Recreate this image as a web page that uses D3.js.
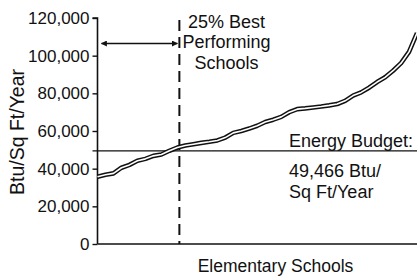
<!DOCTYPE html>
<html><head><meta charset="utf-8">
<script src="https://cdn.jsdelivr.net/npm/d3@7"></script>
<style>
html,body{margin:0;padding:0;background:#fff;}
text{font-family:"Liberation Sans",Arial,Helvetica,sans-serif;fill:#111;}
</style></head>
<body>
<svg id="chart" width="417" height="278"></svg>
<script>
// Energy use per school, sorted ascending (Btu/Sq Ft/Year)
const schoolValues = [35700,36800,37500,40500,42000,44200,45200,46800,47500,49500,
  51200,52300,53000,53700,54300,55000,56500,59000,60000,61300,
  62800,64800,66000,67500,70000,71600,72000,72500,73000,73600,
  74300,76000,78800,80500,83000,86000,88500,92000,96000,102000,112000];
const yTicks = [0,20000,40000,60000,80000,100000,120000];
const energyBudget = 49466;
const bestShare = 0.25;
const yTitle = "Btu/Sq Ft/Year";
const xTitle = "Elementary Schools";
const bestLabel = ["25% Best","Performing","Schools"];
const budgetLabel = ["Energy Budget:","49,466 Btu/","Sq Ft/Year"];

const svg = d3.select("#chart");
const m = {left:97.5, right:0, top:18, bottom:34};
const W = 417, H = 278;
const x = d3.scaleLinear().domain([0, schoolValues.length-1]).range([m.left, W]);
const y = d3.scaleLinear().domain([0,120000]).range([H-m.bottom, m.top]);
const fmt = d3.format(",");

// y axis
const yAxis = d3.axisLeft(y).tickValues(yTicks).tickFormat(fmt).tickSize(5).tickPadding(3);
const gy = svg.append("g").attr("transform",`translate(${m.left},0)`).call(yAxis);
gy.select(".domain").attr("stroke","#111").attr("stroke-width",1.6).attr("d",`M-5,${y(120000)}H0V${y(0)}`);
gy.selectAll(".tick line").attr("stroke","#111").attr("stroke-width",1.4);
gy.selectAll(".tick text").style("font-size","17px").style("font-family","'Liberation Sans',Arial,sans-serif").attr("fill","#111");

// x axis line
svg.append("line").attr("x1",m.left).attr("x2",W).attr("y1",y(0)).attr("y2",y(0))
  .attr("stroke","#111").attr("stroke-width",1.6);

// energy budget line
svg.append("line").attr("x1",m.left-5).attr("x2",W).attr("y1",y(energyBudget)).attr("y2",y(energyBudget))
  .attr("stroke","#111").attr("stroke-width",1.4);

// 25% dashed line
const xBest = x(bestShare*(schoolValues.length-1)) + 2;
svg.append("line").attr("x1",xBest).attr("x2",xBest).attr("y1",y(120000)+2).attr("y2",y(0))
  .attr("stroke","#111").attr("stroke-width",2).attr("stroke-dasharray","11,6");

// double-line curve
const line = d3.line().x((d,i)=>x(i)).y(d=>y(d)).curve(d3.curveLinear);
svg.append("path").datum(schoolValues).attr("d",line).attr("fill","none")
  .attr("stroke","#111").attr("stroke-width",4.6).attr("stroke-linejoin","round");
svg.append("path").datum(schoolValues).attr("d",line).attr("fill","none")
  .attr("stroke","#fff").attr("stroke-width",1.6).attr("stroke-linejoin","round");

// arrow
const defs = svg.append("defs");
defs.append("marker").attr("id","ah").attr("viewBox","0 0 10 10").attr("refX",9).attr("refY",5)
  .attr("markerWidth",8).attr("markerHeight",6).attr("orient","auto-start-reverse").attr("markerUnits","userSpaceOnUse")
  .append("path").attr("d","M0,0L10,5L0,10z").attr("fill","#111");
const arrowY = 43.5;
svg.append("line").attr("x1",m.left+4).attr("x2",xBest-2).attr("y1",arrowY).attr("y2",arrowY)
  .attr("stroke","#111").attr("stroke-width",1.4)
  .attr("marker-start","url(#ah)").attr("marker-end","url(#ah)");

// labels
svg.append("g").selectAll("text").data(bestLabel).join("text")
  .attr("x",226.5).attr("y",(d,i)=>27.5+i*20.5).attr("text-anchor","middle")
  .style("font-size","18px").text(d=>d);

svg.append("g").selectAll("text").data(budgetLabel).join("text")
  .attr("x",289).attr("y",(d,i)=> i===0 ? 146.5 : 177+(i-1)*21)
  .style("font-size","18px").text(d=>d);

svg.append("text").attr("transform",`translate(23.5,132) rotate(-90)`).attr("text-anchor","middle")
  .style("font-size","19.5px").text(yTitle);

svg.append("text").attr("x",275.5).attr("y",271.5).attr("text-anchor","middle")
  .style("font-size","17.5px").text(xTitle);
</script>
</body></html>
